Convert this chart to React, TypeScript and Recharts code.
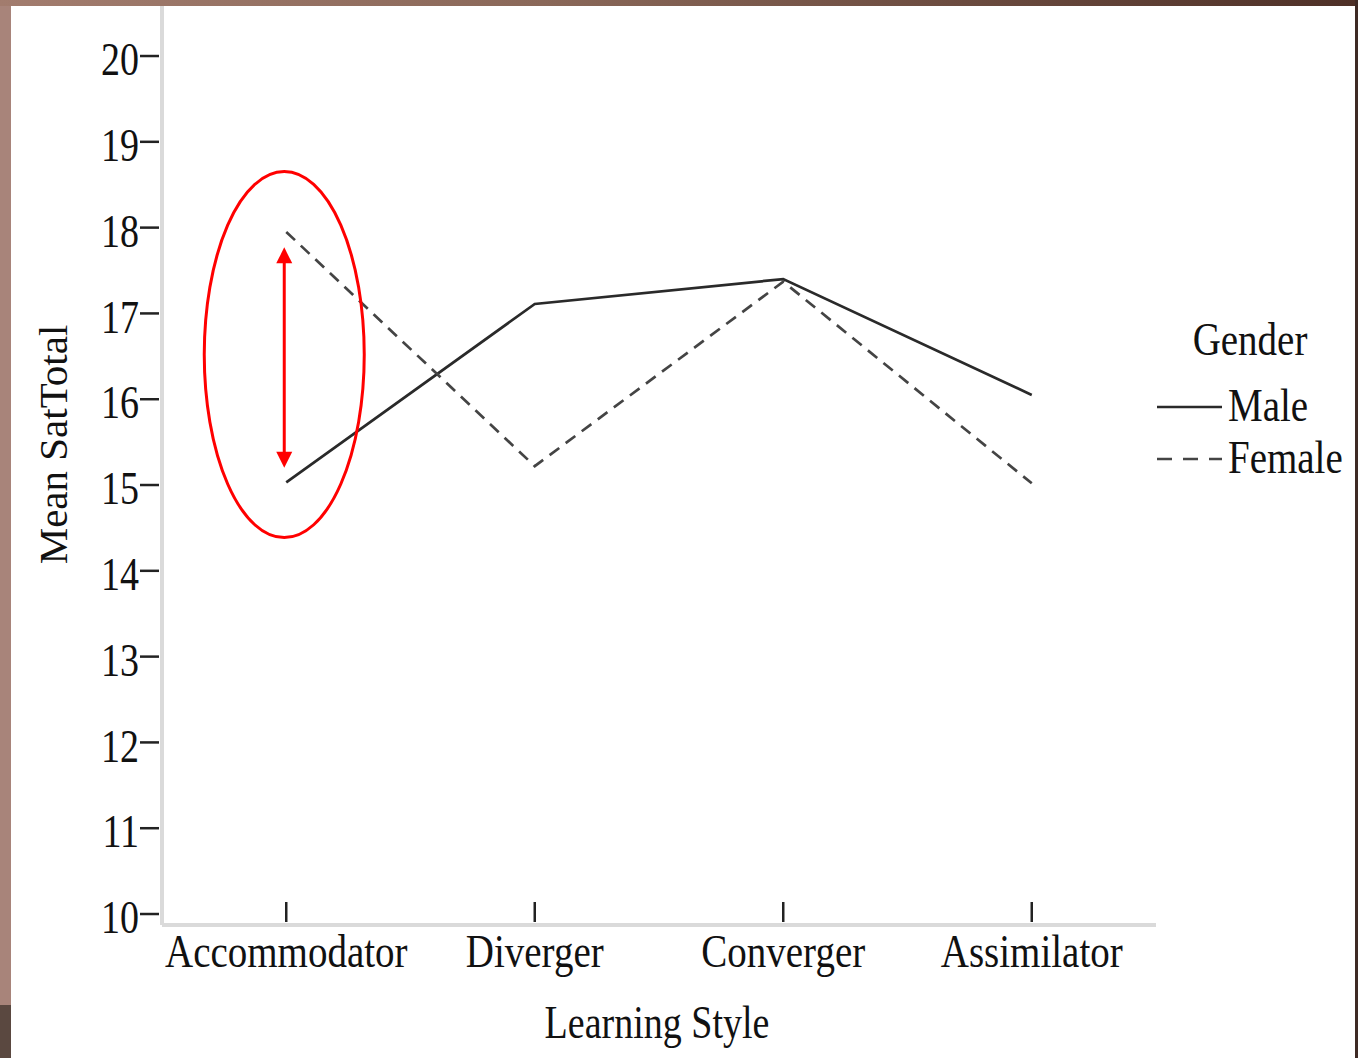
import React from 'react'
import { LineChart, Line, XAxis, YAxis, Legend, ReferenceDot, ReferenceLine } from 'recharts'

const styles = ['Accommodator', 'Diverger', 'Converger', 'Assimilator']
const maleMeans = [15.03, 17.11, 17.4, 16.05]
const femaleMeans = [17.95, 15.22, 17.37, 15.02]
const yTicks = [10, 11, 12, 13, 14, 15, 16, 17, 18, 19, 20]
const legendOrder = ['Male', 'Female']

const data = styles.map((s, i) => ({ style: s, male: maleMeans[i], female: femaleMeans[i] }))

const FONT = '"Liberation Serif", "Times New Roman", serif'
const STRETCH = 1.2

const YTick = ({ x, y, payload }: any) => (
    <g>
        <line x1={x - 22} y1={y} x2={x - 3} y2={y} stroke="#222" strokeWidth={2.5} />
        <text
            transform={`translate(${x - 23},${y}) scale(1,${STRETCH})`}
            y={16}
            textAnchor="end"
            fontSize={38}
            fontFamily={FONT}
            fill="#111"
        >
            {payload.value}
        </text>
    </g>
)

const XTick = ({ x, y, payload }: any) => (
    <g>
        <line x1={x} y1={y - 23} x2={x} y2={y - 3} stroke="#222" strokeWidth={2.5} />
        <text
            transform={`translate(${x},${y}) scale(1,${STRETCH})`}
            y={35}
            textAnchor="middle"
            fontSize={39}
            fontFamily={FONT}
            fill="#111"
        >
            {payload.value}
        </text>
    </g>
)

const renderLegend = (props: any) => {
    const payload = [...(props.payload || [])].sort(
        (a: any, b: any) => legendOrder.indexOf(a.value) - legendOrder.indexOf(b.value)
    )
    return (
        <svg width={208} height={200}>
            <text
                transform={`translate(100,55) scale(1,${STRETCH})`}
                textAnchor="middle"
                fontSize={39}
                fontFamily={FONT}
                fill="#111"
            >
                Gender
            </text>
            {payload.map((entry: any, i: number) => {
                const rowY = 107 + i * 52
                const dashed = !!entry.payload?.strokeDasharray
                return (
                    <g key={`legend-${i}`}>
                        <line
                            x1={7}
                            y1={rowY}
                            x2={72}
                            y2={rowY}
                            stroke={entry.color}
                            strokeWidth={2.7}
                            strokeDasharray={dashed ? '15 11' : undefined}
                        />
                        <text
                            transform={`translate(78,${rowY + 14}) scale(1,${STRETCH})`}
                            fontSize={39}
                            fontFamily={FONT}
                            fill="#111"
                        >
                            {entry.value}
                        </text>
                    </g>
                )
            })}
        </svg>
    )
}

const Ellipse = (props: any) => (
    <ellipse cx={props.cx - 2} cy={props.cy} rx={80} ry={183} fill="none" stroke="#ff0000" strokeWidth={3} />
)

const DoubleArrow = (props: any) => {
    const { x1, y1, y2 } = props
    const cx = x1 - 2
    const top = Math.min(y1, y2)
    const bottom = Math.max(y1, y2)
    return (
        <g>
            <line x1={cx} y1={top + 12} x2={cx} y2={bottom - 12} stroke="#ff0000" strokeWidth={3} />
            <polygon points={`${cx},${top} ${cx - 8},${top + 16} ${cx + 8},${top + 16}`} fill="#ff0000" />
            <polygon points={`${cx},${bottom} ${cx - 8},${bottom - 16} ${cx + 8},${bottom - 16}`} fill="#ff0000" />
        </g>
    )
}

export default function App() {
    return (
        <div
            style={{
                position: 'absolute',
                left: 0,
                top: 0,
                width: 1358,
                height: 1058,
                background: '#a8847a',
                overflow: 'hidden',
            }}
        >
            <div style={{ position: 'absolute', left: 0, top: 0, width: 1358, height: 6, background: 'linear-gradient(to right, #a27c6e, #8a6859 40%, #4e3027)' }} />
            <div style={{ position: 'absolute', left: 0, top: 1005, width: 11, height: 53, background: '#5a4840' }} />
            <div style={{ position: 'absolute', left: 1355, top: 0, width: 3, height: 1058, background: '#3e2a25' }} />
            <div style={{ position: 'absolute', left: 11, top: 6, width: 1344, height: 1052, background: '#ffffff' }} />
            <div style={{ position: 'absolute', left: 0, top: 0 }}>
                <LineChart width={1358} height={1058} data={data} margin={{ top: 6, right: 202, bottom: 13, left: 10 }}>
                    <XAxis
                        dataKey="style"
                        scale="band"
                        height={120}
                        tickSize={0}
                        tickMargin={0}
                        tickLine={false}
                        axisLine={{ stroke: '#dadada', strokeWidth: 4 }}
                        tick={<XTick />}
                        interval={0}
                        label={(p: any) => {
                            const vb = p.viewBox
                            return (
                                <text
                                    transform={`translate(${vb.x + vb.width / 2 - 2},1038) scale(1,${STRETCH})`}
                                    textAnchor="middle"
                                    fontSize={38}
                                    fontFamily={FONT}
                                    fill="#111"
                                >
                                    Learning Style
                                </text>
                            )
                        }}
                    />
                    <YAxis
                        type="number"
                        width={152}
                        domain={[9.872, 20.583]}
                        allowDataOverflow
                        ticks={yTicks}
                        interval={0}
                        tickSize={0}
                        tickMargin={0}
                        tickLine={false}
                        axisLine={{ stroke: '#dadada', strokeWidth: 4 }}
                        tick={<YTick />}
                        label={(p: any) => {
                            const vb = p.viewBox
                            return (
                                <text
                                    transform={`translate(${vb.x + 57},${vb.y + vb.height / 2 - 21}) rotate(-90)`}
                                    textAnchor="middle"
                                    fontSize={41}
                                    fontFamily={FONT}
                                    fill="#111"
                                >
                                    Mean SatTotal
                                </text>
                            )
                        }}
                    />
                    <Line
                        type="linear"
                        dataKey="male"
                        name="Male"
                        stroke="#2a2a2a"
                        strokeWidth={2.7}
                        dot={false}
                        activeDot={false}
                        isAnimationActive={false}
                    />
                    <Line
                        type="linear"
                        dataKey="female"
                        name="Female"
                        stroke="#444444"
                        strokeWidth={2.7}
                        strokeDasharray="12 8"
                        dot={false}
                        activeDot={false}
                        isAnimationActive={false}
                    />
                    <ReferenceDot x="Accommodator" y={16.52} r={1} shape={<Ellipse />} />
                    <ReferenceLine
                        segment={[{ x: 'Accommodator', y: 15.2 }, { x: 'Accommodator', y: 17.77 }]}
                        shape={<DoubleArrow />}
                    />
                    <Legend
                        layout="horizontal"
                        verticalAlign="middle"
                        content={renderLegend}
                        wrapperStyle={{ position: 'absolute', left: 1150, top: 300, width: 208, height: 200 }}
                    />
                </LineChart>
            </div>
        </div>
    )
}
